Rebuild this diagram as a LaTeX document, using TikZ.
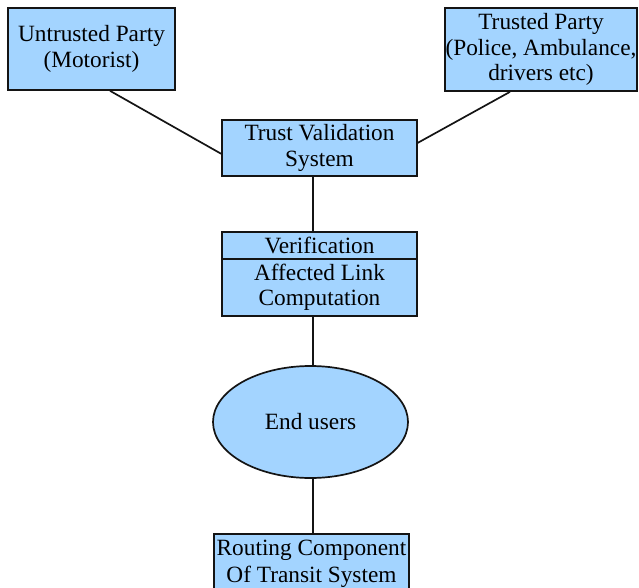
\documentclass[tikz,border=0pt]{standalone}
\usepackage{fontspec}
\setmainfont{Liberation Serif}
\usetikzlibrary{shapes.geometric,calc}
\definecolor{boxblue}{RGB}{163,212,255}
\definecolor{edge}{RGB}{20,20,20}
\tikzset{
  box/.style={draw=edge, line width=1.7pt, fill=boxblue, rectangle, inner sep=0pt, align=center,
    font=\fontsize{23.3}{25.5}\selectfont},
  oval/.style={draw=edge, line width=1.7pt, fill=boxblue, ellipse, inner sep=0pt, align=center,
    font=\fontsize{23.3}{25.5}\selectfont},
  lbl/.style={inner sep=0pt, align=center, font=\fontsize{23.3}{27}\selectfont},
  conn/.style={draw=edge, line width=1.7pt}
}
\begin{document}
\begin{tikzpicture}[x=1pt,y=-1pt]
\useasboundingbox (0,0) rectangle (639,588);
\node[box, minimum width=167, minimum height=82] (ut) at (91.5,49) {Untrusted Party\\(Motorist)};
\node[box, minimum width=192, minimum height=83] (tp) at (541,49.5) {Trusted Party\\(Police, Ambulance,\\drivers etc)};
\node[box, minimum width=195, minimum height=56] (tvs) at (319.5,148) {Trust Validation\\System};
\node[box, minimum width=195, minimum height=27] (ver) at (319.5,245.5) {Verification};
\node[box, minimum width=195, minimum height=57] (alc) at (319.5,287.5) {Affected Link\\Computation};
\node[oval, minimum width=195, minimum height=112] (eu) at (310.5,422) {End users};
\node[box, minimum width=195, minimum height=70, anchor=north] (rc) at (311.5,533) {};
\node[lbl] (rct) at (311.5,564) {Routing Component\\Of Transit System};
\draw[conn] ($(ut.south west)!0.61!(ut.south east)$) -- ($(tvs.north west)!0.6!(tvs.south west)$);
\draw[conn] ($(tp.south west)!0.34!(tp.south east)$) -- ($(tvs.north east)!0.41!(tvs.south east)$);
\draw[conn] ([xshift=-6.5pt]tvs.south) -- ([xshift=-6.5pt]ver.north);
\draw[conn] ([xshift=-6.5pt]alc.south) -- ([xshift=-6.5pt]alc.south |- eu.north);
\draw[conn] ([xshift=2.5pt]eu.south) -- ([xshift=2.5pt]eu.south |- rc.north);
\end{tikzpicture}
\end{document}
